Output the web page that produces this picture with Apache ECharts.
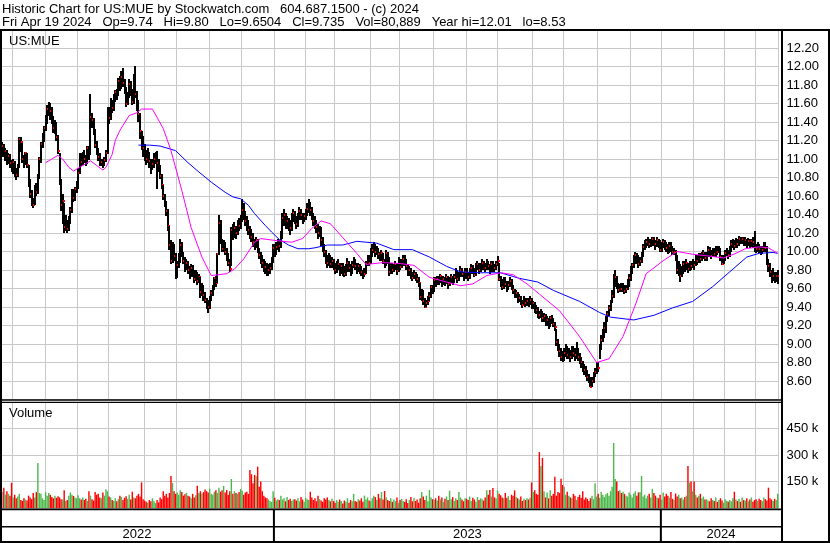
<!DOCTYPE html>
<html><head><meta charset="utf-8">
<script src="https://cdn.jsdelivr.net/npm/echarts/dist/echarts.min.js"></script>
<style>html,body{margin:0;padding:0;background:#fff;overflow:hidden}#c{width:830px;height:543px}</style>
</head><body><div id="c"></div>
<script>
// ---------- categories ----------
const HOLIDAYS = ['2022-05-30','2022-06-20','2022-07-04','2022-09-05','2022-11-24','2022-12-26',
 '2023-01-02','2023-01-16','2023-02-20','2023-04-07','2023-05-29','2023-06-19','2023-07-04','2023-09-04','2023-11-23','2023-12-25',
 '2024-01-01','2024-01-15','2024-02-19','2024-03-29'];
const FIRST_DAY = '2022-04-21', LAST_DAY = '2024-04-19';
const YEARS = ['2022','2023','2024'];
const PRICE_TICKS = {min: 8.4, max: 12.4, step: 0.2};
const VOL_TICKS = {min: 0, max: 600000, step: 150000};
const HEADER1 = 'Historic Chart for US:MUE by Stockwatch.com   604.687.1500 - (c) 2024';
const HEADER2 = 'Fri Apr 19 2024   Op=9.74   Hi=9.80   Lo=9.6504   Cl=9.735   Vol=80,889   Year hi=12.01   lo=8.53';

// ---------- series values ----------
const closes = [
11.14,11.06,11.09,10.99,11.03,10.96,10.92,10.97,10.86,10.83,
10.92,11.22,11.18,11.00,10.97,11.06,10.93,10.74,10.62,10.52,
10.50,10.68,10.64,10.80,11.00,11.16,11.22,11.33,11.40,11.54,
11.58,11.52,11.45,11.33,11.38,11.24,11.09,10.75,10.50,10.55,
10.26,10.30,10.24,10.33,10.45,10.65,10.58,10.68,10.71,10.85,
11.02,10.97,11.05,11.00,10.97,11.12,11.05,11.45,11.42,11.30,
11.15,11.08,11.02,10.96,10.97,10.93,10.99,11.07,11.54,11.44,
11.62,11.55,11.66,11.72,11.70,11.84,11.78,11.89,11.82,11.75,
11.60,11.68,11.81,11.72,11.62,11.90,11.70,11.60,11.49,11.30,
11.18,11.12,11.05,11.00,11.06,10.98,10.92,10.95,11.00,11.02,
10.96,10.91,10.82,10.72,10.60,10.52,10.44,10.28,10.07,9.90,
10.04,9.95,9.72,9.85,9.92,10.07,9.98,9.90,9.83,9.88,
9.80,9.74,9.82,9.77,9.70,9.76,9.68,9.72,9.56,9.60,
9.53,9.48,9.44,9.40,9.50,9.55,9.62,9.71,9.66,9.97,
10.31,10.12,10.03,10.08,10.00,9.94,9.88,9.81,10.23,10.18,
10.25,10.20,10.30,10.28,10.36,10.45,10.40,10.33,10.30,10.23,
10.20,10.16,10.10,10.08,10.12,10.02,9.96,9.92,9.88,9.85,
9.83,9.78,9.80,9.82,9.90,10.04,9.98,10.05,10.10,10.06,
10.15,10.36,10.40,10.28,10.33,10.30,10.25,10.37,10.42,10.35,
10.30,10.38,10.44,10.40,10.35,10.38,10.42,10.46,10.50,10.45,
10.38,10.33,10.30,10.26,10.20,10.22,10.12,10.05,9.99,9.92,
9.88,9.94,9.86,9.90,9.85,9.80,9.83,9.87,9.78,9.84,
9.80,9.76,9.82,9.88,9.82,9.79,9.85,9.88,9.84,9.81,
9.84,9.80,9.78,9.73,9.76,9.86,9.92,9.88,9.98,10.02,
10.05,9.99,10.03,9.97,9.94,9.98,9.90,9.87,9.98,9.92,
9.78,9.85,9.80,9.82,9.86,9.79,9.90,9.83,9.87,9.92,
9.90,9.84,9.78,9.80,9.74,9.71,9.76,9.72,9.70,9.66,
9.51,9.56,9.47,9.40,9.44,9.47,9.52,9.62,9.58,9.69,
9.66,9.70,9.68,9.74,9.66,9.70,9.67,9.72,9.65,9.69,
9.72,9.68,9.72,9.78,9.70,9.74,9.80,9.76,9.72,9.78,
9.76,9.72,9.78,9.82,9.80,9.75,9.84,9.86,9.80,9.83,
9.88,9.85,9.82,9.88,9.84,9.80,9.86,9.83,9.82,9.87,
9.90,9.70,9.66,9.62,9.68,9.65,9.60,9.64,9.68,9.62,
9.58,9.53,9.55,9.48,9.50,9.46,9.42,9.48,9.44,9.46,
9.45,9.48,9.42,9.44,9.38,9.37,9.33,9.31,9.34,9.28,
9.30,9.24,9.26,9.20,9.28,9.26,9.22,9.18,9.02,8.97,
8.92,8.86,8.85,8.90,8.94,8.88,8.90,8.86,8.93,8.90,
8.88,8.92,8.86,8.84,8.80,8.75,8.72,8.68,8.64,8.62,
8.54,8.60,8.66,8.70,8.78,8.74,8.97,9.04,9.10,9.17,
9.26,9.32,9.39,9.45,9.52,9.69,9.72,9.65,9.58,9.62,
9.60,9.62,9.57,9.60,9.66,9.71,9.80,9.85,9.90,9.96,
9.92,9.87,9.90,9.96,10.05,10.08,10.10,10.12,10.08,10.10,
10.13,10.10,10.08,10.12,10.10,10.02,10.06,10.10,10.07,10.04,
10.01,10.06,10.05,9.99,10.00,9.94,9.80,9.84,9.74,9.78,
9.86,9.83,9.88,9.81,9.86,9.84,9.87,9.85,9.92,9.90,
9.94,9.92,9.96,9.98,9.93,9.96,10.02,9.99,9.95,10.00,
9.97,10.04,10.00,10.03,9.94,9.87,9.92,9.98,10.00,9.96,
10.02,10.08,10.10,10.06,10.11,10.08,10.14,10.12,10.13,10.10,
10.12,10.09,10.11,10.07,10.11,10.10,10.05,10.03,10.06,10.03,
10.00,10.02,10.07,10.04,9.88,9.84,9.78,9.70,9.74,9.71,9.73,9.735];

const highs = [
11.18,11.16,11.12,11.10,11.06,11.05,10.99,11.00,10.98,10.90,
10.95,11.24,11.24,11.17,11.04,11.08,11.07,10.94,10.78,10.66,
10.58,10.72,10.74,10.84,11.02,11.18,11.28,11.36,11.48,11.58,
11.62,11.61,11.56,11.46,11.42,11.40,11.26,11.06,10.78,10.62,
10.52,10.40,10.34,10.38,10.48,10.68,10.68,10.70,10.76,10.90,
11.06,11.06,11.08,11.10,11.04,11.14,11.14,11.70,11.50,11.44,
11.32,11.20,11.12,11.06,11.00,11.00,11.02,11.10,11.56,11.56,
11.66,11.64,11.70,11.75,11.76,11.88,11.90,11.95,11.98,11.86,
11.78,11.72,11.86,11.84,11.76,11.92,12.01,11.74,11.64,11.50,
11.30,11.25,11.16,11.10,11.12,11.08,11.00,11.00,11.06,11.08,
11.09,11.00,10.94,10.84,10.72,10.62,10.55,10.46,10.28,10.12,
10.10,10.08,9.98,9.90,9.98,10.14,10.10,10.00,9.94,9.92,
9.90,9.84,9.86,9.85,9.80,9.80,9.78,9.76,9.72,9.66,
9.64,9.56,9.50,9.48,9.52,9.58,9.64,9.72,9.74,9.98,
10.39,10.34,10.14,10.12,10.10,10.04,9.98,9.92,10.26,10.30,
10.32,10.28,10.34,10.36,10.40,10.57,10.52,10.44,10.38,10.34,
10.28,10.24,10.20,10.14,10.16,10.14,10.04,10.00,9.96,9.92,
9.90,9.88,9.86,9.88,9.94,10.08,10.08,10.10,10.14,10.12,
10.22,10.42,10.46,10.42,10.38,10.36,10.34,10.42,10.46,10.44,
10.38,10.42,10.48,10.46,10.42,10.42,10.46,10.52,10.57,10.54,
10.48,10.42,10.38,10.34,10.30,10.28,10.26,10.16,10.08,10.02,
9.96,9.98,9.96,9.94,9.92,9.88,9.90,9.92,9.88,9.88,
9.88,9.84,9.86,9.93,9.90,9.86,9.90,9.94,9.92,9.88,
9.88,9.86,9.84,9.80,9.82,9.90,9.96,9.96,10.04,10.08,
10.10,10.08,10.06,10.04,10.00,10.02,9.98,9.92,10.02,10.00,
9.94,9.88,9.88,9.86,9.90,9.88,9.94,9.92,9.92,9.96,
9.96,9.92,9.86,9.84,9.82,9.78,9.80,9.78,9.76,9.72,
9.66,9.60,9.58,9.50,9.48,9.52,9.56,9.64,9.64,9.72,
9.72,9.74,9.74,9.76,9.74,9.73,9.72,9.76,9.74,9.72,
9.76,9.74,9.76,9.82,9.80,9.78,9.84,9.82,9.78,9.82,
9.82,9.78,9.82,9.86,9.85,9.82,9.88,9.90,9.88,9.88,
9.92,9.90,9.88,9.92,9.90,9.86,9.90,9.90,9.86,9.90,
9.95,9.88,9.74,9.70,9.72,9.72,9.68,9.68,9.72,9.70,
9.64,9.60,9.58,9.56,9.54,9.52,9.48,9.52,9.50,9.50,
9.50,9.52,9.50,9.47,9.45,9.42,9.40,9.36,9.38,9.36,
9.34,9.32,9.30,9.28,9.30,9.31,9.28,9.24,9.16,9.05,
9.00,8.96,8.92,8.96,9.00,8.98,8.96,8.94,8.98,8.98,
8.96,9.02,8.96,8.90,8.86,8.82,8.78,8.76,8.72,8.68,
8.64,8.64,8.70,8.74,8.80,8.80,9.00,9.10,9.16,9.24,
9.30,9.36,9.42,9.48,9.58,9.76,9.80,9.74,9.66,9.65,
9.66,9.66,9.64,9.64,9.70,9.76,9.84,9.88,9.96,10.00,
9.98,9.96,9.94,10.00,10.08,10.12,10.14,10.16,10.14,10.14,
10.16,10.16,10.12,10.16,10.14,10.12,10.10,10.14,10.12,10.10,
10.08,10.10,10.10,10.06,10.04,10.02,9.96,9.90,9.86,9.84,
9.90,9.90,9.92,9.88,9.90,9.90,9.92,9.90,9.96,9.96,
9.98,9.98,10.00,10.02,10.00,10.00,10.06,10.05,10.02,10.04,
10.04,10.06,10.06,10.06,10.04,9.96,9.96,10.02,10.04,10.02,
10.06,10.12,10.14,10.12,10.15,10.14,10.17,10.16,10.16,10.16,
10.16,10.14,10.15,10.14,10.14,10.16,10.22,10.08,10.10,10.08,
10.06,10.06,10.10,10.10,10.06,9.92,9.88,9.80,9.82,9.78,9.78,9.80];

const lows = [
11.02,11.02,10.98,10.94,10.95,10.90,10.86,10.84,10.80,10.77,
10.80,10.90,11.08,10.96,10.90,10.94,10.90,10.70,10.58,10.49,
10.47,10.50,10.60,10.62,10.78,10.96,11.12,11.18,11.30,11.38,
11.46,11.42,11.38,11.28,11.27,11.20,11.05,10.72,10.44,10.30,
10.20,10.22,10.20,10.22,10.30,10.42,10.54,10.55,10.63,10.68,
10.84,10.92,10.94,10.96,10.92,10.95,10.99,11.04,11.34,11.26,
11.12,11.04,10.98,10.92,10.92,10.90,10.92,10.97,11.05,11.38,
11.42,11.50,11.52,11.62,11.64,11.68,11.74,11.76,11.78,11.70,
11.56,11.58,11.66,11.68,11.58,11.60,11.66,11.52,11.40,11.22,
11.10,11.02,10.98,10.94,10.96,10.90,10.84,10.88,10.90,10.95,
10.68,10.86,10.78,10.68,10.56,10.48,10.38,10.22,10.02,9.86,
9.88,9.90,9.70,9.71,9.82,9.88,9.94,9.86,9.78,9.80,
9.76,9.70,9.72,9.72,9.66,9.68,9.64,9.66,9.50,9.52,
9.46,9.44,9.38,9.34,9.38,9.46,9.52,9.58,9.62,9.66,
9.96,10.08,9.99,10.00,9.96,9.90,9.84,9.78,9.84,10.12,
10.15,10.14,10.18,10.22,10.24,10.32,10.34,10.28,10.22,10.18,
10.14,10.10,10.05,10.02,10.04,9.98,9.92,9.86,9.82,9.78,
9.76,9.74,9.74,9.76,9.80,9.88,9.94,9.96,10.02,10.00,
10.04,10.14,10.28,10.24,10.24,10.22,10.18,10.22,10.32,10.30,
10.24,10.26,10.34,10.34,10.30,10.32,10.34,10.38,10.42,10.38,
10.34,10.28,10.24,10.20,10.14,10.16,10.06,10.00,9.94,9.86,
9.82,9.84,9.82,9.82,9.80,9.76,9.77,9.80,9.74,9.76,
9.74,9.72,9.74,9.78,9.78,9.74,9.76,9.82,9.80,9.76,
9.78,9.76,9.73,9.70,9.72,9.76,9.84,9.84,9.86,9.94,
9.98,9.94,9.96,9.92,9.90,9.90,9.86,9.82,9.84,9.86,
9.74,9.76,9.76,9.78,9.80,9.75,9.78,9.80,9.82,9.84,
9.84,9.80,9.74,9.74,9.70,9.68,9.70,9.68,9.66,9.62,
9.48,9.46,9.42,9.39,9.40,9.42,9.46,9.50,9.54,9.56,
9.62,9.64,9.64,9.66,9.62,9.64,9.63,9.65,9.60,9.63,
9.66,9.64,9.66,9.70,9.66,9.68,9.72,9.72,9.68,9.70,
9.70,9.68,9.70,9.76,9.76,9.72,9.74,9.80,9.76,9.78,
9.80,9.80,9.78,9.80,9.80,9.76,9.78,9.78,9.78,9.80,
9.84,9.68,9.62,9.58,9.60,9.62,9.56,9.58,9.62,9.58,
9.54,9.50,9.50,9.44,9.45,9.42,9.39,9.42,9.40,9.41,
9.40,9.42,9.38,9.38,9.34,9.32,9.28,9.27,9.28,9.24,
9.24,9.20,9.20,9.16,9.18,9.22,9.18,9.14,8.98,8.92,
8.86,8.82,8.80,8.82,8.86,8.84,8.84,8.80,8.84,8.86,
8.82,8.84,8.82,8.78,8.74,8.70,8.66,8.64,8.60,8.58,
8.53,8.54,8.58,8.64,8.68,8.70,8.84,8.94,9.02,9.06,
9.12,9.24,9.30,9.36,9.44,9.50,9.62,9.60,9.55,9.56,
9.56,9.56,9.54,9.55,9.58,9.62,9.68,9.76,9.82,9.86,
9.86,9.82,9.84,9.88,9.94,10.02,10.04,10.06,10.04,10.05,
10.06,10.06,10.02,10.05,10.04,10.00,10.00,10.04,10.02,10.00,
9.97,9.98,10.00,9.96,9.96,9.90,9.76,9.74,9.67,9.72,
9.76,9.78,9.80,9.77,9.79,9.80,9.82,9.80,9.84,9.85,
9.88,9.88,9.90,9.92,9.90,9.90,9.94,9.94,9.92,9.94,
9.94,9.94,9.96,9.98,9.90,9.85,9.86,9.90,9.95,9.92,
9.94,10.00,10.04,10.02,10.04,10.04,10.06,10.08,10.08,10.06,
10.06,10.04,10.06,10.04,10.05,10.04,10.00,9.98,10.00,9.98,
9.96,9.97,10.00,10.00,9.85,9.78,9.72,9.66,9.68,9.66,9.67,9.6504];

// volume in thousands of shares
const volumesK = [
90,115,75,95,80,70,143,60,75,55,
65,80,45,40,55,48,42,70,60,50,
85,60,90,255,85,80,55,45,90,70,
85,75,62,55,70,58,66,60,50,48,
100,40,45,70,88,75,68,60,55,72,
55,48,60,45,52,40,95,70,50,42,
90,75,80,60,55,88,70,106,95,65,
60,45,40,55,38,50,70,62,45,58,
66,52,75,48,92,60,55,70,80,65,
145,50,42,35,30,45,38,55,40,28,
45,32,60,50,95,70,80,60,85,181,
141,95,80,88,75,100,90,70,78,85,
70,65,55,80,60,72,126,85,95,80,
90,105,95,88,110,80,75,92,100,85,
115,92,100,125,88,102,75,95,164,80,
95,85,80,90,108,98,75,88,92,80,
215,191,140,187,180,234,120,150,95,70,
60,55,48,40,35,95,58,42,50,45,
70,48,55,38,62,45,52,40,48,50,
42,55,38,62,48,35,58,50,45,92,
60,45,55,38,70,50,42,35,55,48,
60,45,38,52,40,30,45,35,48,40,
25,42,35,55,30,45,38,80,40,35,
50,42,55,35,70,48,60,42,38,55,
70,62,45,80,55,90,48,96,60,45,
40,55,35,48,38,60,30,45,52,40,
35,50,28,45,62,38,55,40,48,30,
55,90,65,45,70,38,102,60,50,45,
55,42,70,48,60,35,52,65,45,98,
50,62,40,55,45,90,60,48,38,55,
52,45,65,40,58,48,35,62,45,55,
50,42,60,100,75,102,65,113,60,55,
100,80,72,60,55,85,58,68,45,75,
70,100,62,55,48,65,40,52,45,55,
48,58,145,90,100,80,75,317,238,283,
95,60,88,55,100,70,80,177,70,90,
85,166,130,120,75,92,70,60,55,80,
70,45,62,75,58,95,48,60,52,40,
55,70,50,140,65,80,58,90,75,62,
78,85,70,95,120,368,164,150,95,100,
85,92,80,70,65,88,75,60,82,95,
70,88,90,181,65,75,55,70,80,60,
108,85,70,60,55,75,48,88,65,80,
70,58,90,52,45,82,65,75,55,60,
48,62,70,238,143,150,95,150,75,60,
70,80,55,65,48,50,42,38,55,45,
40,60,35,45,55,42,30,50,40,35,
45,38,55,92,48,40,52,35,60,45,
42,55,38,48,60,35,45,50,40,52,
45,38,60,50,42,115,55,48,40,52,45,80.889];

// moving averages: [bar index, value]
const magentaMA = [[28,10.96],[33,11.01],[36,11.04],[39,11.00],[43,10.91],[46,10.87],[50,10.91],[57,10.98],[61,10.93],[65,10.88],[67,10.91],[71,11.05],[73,11.20],[76,11.31],[82,11.47],[87,11.50],[90,11.54],[97,11.54],[100,11.45],[104,11.33],[109,11.09],[116,10.66],[122,10.26],[129,9.94],[135,9.74],[145,9.76],[150,9.81],[156,9.92],[163,10.10],[167,10.14],[176,10.12],[187,10.10],[194,10.14],[200,10.25],[206,10.33],[212,10.30],[220,10.15],[229,9.98],[235,9.86],[246,9.88],[257,9.87],[266,9.85],[276,9.72],[287,9.67],[296,9.63],[304,9.65],[313,9.74],[322,9.77],[330,9.75],[339,9.65],[347,9.54],[360,9.36],[373,9.08],[384,8.80],[392,8.84],[401,9.08],[409,9.42],[416,9.76],[427,9.90],[436,10.00],[446,9.97],[457,9.95],[466,9.93],[474,9.98],[480,10.03],[489,10.05],[495,10.04],[501,9.98]];
const blueMA = [[88,11.15],[95,11.15],[102,11.14],[112,11.09],[120,10.96],[127,10.86],[135,10.75],[144,10.64],[149,10.59],[154,10.57],[159,10.50],[163,10.41],[170,10.28],[174,10.21],[179,10.13],[185,10.07],[191,10.03],[198,10.03],[202,10.04],[210,10.07],[220,10.07],[229,10.11],[242,10.09],[253,10.02],[265,10.02],[276,9.94],[287,9.84],[296,9.78],[309,9.77],[322,9.77],[334,9.71],[346,9.67],[356,9.58],[373,9.46],[386,9.34],[393,9.29],[403,9.27],[408,9.26],[421,9.31],[433,9.39],[446,9.46],[459,9.62],[470,9.78],[481,9.94],[489,9.98],[498,9.99],[501,9.98]];

// ---------- build ----------
function buildDays(){
  const out=[]; const d=new Date(Date.UTC(+FIRST_DAY.slice(0,4), +FIRST_DAY.slice(5,7)-1, +FIRST_DAY.slice(8,10)));
  while(true){
    const s=d.toISOString().slice(0,10);
    if(s>LAST_DAY) break;
    const wd=d.getUTCDay();
    if(wd!==0 && wd!==6 && HOLIDAYS.indexOf(s)<0) out.push(s);
    d.setUTCDate(d.getUTCDate()+1);
  }
  return out;
}
const days = buildDays();
const N = days.length;
if(closes.length!==N||highs.length!==N||lows.length!==N||volumesK.length!==N){
  throw new Error('length mismatch days='+N+' c='+closes.length+' h='+highs.length+' l='+lows.length+' v='+volumesK.length);
}
const monthStart = i => i>0 && days[i].slice(0,7)!==days[i-1].slice(0,7);

const ohlc = closes.map((c,i)=>[i, Math.max(highs[i],c), Math.min(lows[i],c), c]);
const volData = volumesK.map((v,i)=>{
  const prev = i>0 ? closes[i-1] : closes[i];
  const col = closes[i]>prev ? '#4db84d' : (closes[i]<prev ? '#ff0000' : '#a8a8a8');
  return {value: v*1000, itemStyle:{color: col}};
});

const FONT = '"Liberation Sans", Arial, sans-serif';
const GRID_COLOR = '#c8c8c8';
const chart = echarts.init(document.getElementById('c'), null, {renderer:'canvas'});

const xBase = {
  type:'category', data: days, boundaryGap:true,
  axisLine:{show:false}, axisTick:{show:false}, axisLabel:{show:false},
  splitLine:{show:true, interval:(i)=>monthStart(i), lineStyle:{color:GRID_COLOR, width:1}}
};

chart.setOption({
  animation:false,
  backgroundColor:'#ffffff',
  grid:[
    {left:1.5, width:777, top:29.5, height:370},
    {left:1.5, width:777, top:402, height:106}
  ],
  xAxis:[Object.assign({gridIndex:0}, xBase), Object.assign({gridIndex:1}, xBase)],
  yAxis:[
    {gridIndex:0, type:'value', position:'right', min:PRICE_TICKS.min, max:PRICE_TICKS.max, interval:PRICE_TICKS.step,
     axisLine:{show:false}, axisTick:{show:false},
     axisLabel:{margin:8, color:'#000', fontSize:13, fontFamily:FONT,
       formatter:v=> (v>12.3||v<8.5)?'':v.toFixed(2)},
     splitLine:{show:true, lineStyle:{color:GRID_COLOR, width:1}}},
    {gridIndex:1, type:'value', position:'right', min:VOL_TICKS.min, max:VOL_TICKS.max, interval:VOL_TICKS.step,
     axisLine:{show:false}, axisTick:{show:false},
     axisLabel:{margin:8, color:'#000', fontSize:13, fontFamily:FONT,
       formatter:v=> (v<=0||v>=600000)?'':(v/1000)+' k'},
     splitLine:{show:true, lineStyle:{color:GRID_COLOR, width:1}}}
  ],
  series:[
    {type:'custom', xAxisIndex:0, yAxisIndex:0, data:ohlc, encode:{x:0, y:[1,2,3]}, clip:true,
     renderItem:function(params, api){
       const i=api.value(0);
       const h=api.coord([i, api.value(1)]);
       const l=api.coord([i, api.value(2)]);
       const c=api.coord([i, api.value(3)]);
       const bx=Math.floor(h[0]-0.5);
       const top=Math.round(h[1]), bot=Math.round(l[1]);
       return {type:'group', children:[
         {type:'rect', shape:{x:bx, y:top, width:2, height:Math.max(1,bot-top)}, style:{fill:'#000'}},
         {type:'rect', shape:{x:bx+1, y:Math.round(c[1])-1, width:2, height:2}, style:{fill:'#ff0000'}}
       ]};
     }},
    {type:'line', xAxisIndex:0, yAxisIndex:0, data:blueMA, showSymbol:false, symbol:'none',
     lineStyle:{color:'#0000ff', width:1}, z:5},
    {type:'line', xAxisIndex:0, yAxisIndex:0, data:magentaMA, showSymbol:false, symbol:'none',
     lineStyle:{color:'#ff00ff', width:1}, z:6},
    {type:'bar', xAxisIndex:1, yAxisIndex:1, data:volData, barCategoryGap:'8%'}
  ]
});

// frame, texts and year strip positioned from the axis
const xAt = i => chart.convertToPixel({xAxisIndex:0}, i);
const band = xAt(1)-xAt(0);
const boundary = i => xAt(i) - band/2;
const yearStarts = YEARS.map(y=>days.findIndex(d=>d.slice(0,4)===y));
const PLOT_R = 781, FULL_W = 830;
const blk = (x,y,w,h)=>({type:'rect', z:100, shape:{x:x,y:y,width:w,height:h}, style:{fill:'#000'}});
const txt = (x,y,t,align)=>({type:'text', z:101, x:x, y:y, style:{text:t, font:'13px '+FONT, fill:'#000', textAlign:align||'left', textVerticalAlign:'middle'}});
const g = [
  {type:'rect', z:99, shape:{x:0,y:0,width:FULL_W,height:29}, style:{fill:'#fff'}},
  txt(2, 9.5, HEADER1), txt(2, 22.5, HEADER2),
  blk(0,29,FULL_W,2),
  blk(0,29,2,514),
  blk(FULL_W-2,29,2,514),
  blk(PLOT_R,29,2,514),
  blk(0,399.3,PLOT_R,1.5),
  blk(0,401.8,PLOT_R,1.2),
  blk(0,508.5,PLOT_R,1.7),
  blk(0,526,PLOT_R,1.6),
  blk(0,541,FULL_W,2),
  txt(9, 41, 'US:MUE'), txt(9, 413, 'Volume')
];
const edges = yearStarts.map(i=>boundary(i)).concat([PLOT_R]);
edges[0] = 0;
for(let k=1;k<YEARS.length;k++){ g.push(blk(edges[k]-1, 510, 2, 31)); }
for(let k=0;k<YEARS.length;k++){ g.push(txt((edges[k]+edges[k+1])/2, 534.5, YEARS[k], 'center')); }
chart.setOption({graphic:g});
</script>
</body></html>
